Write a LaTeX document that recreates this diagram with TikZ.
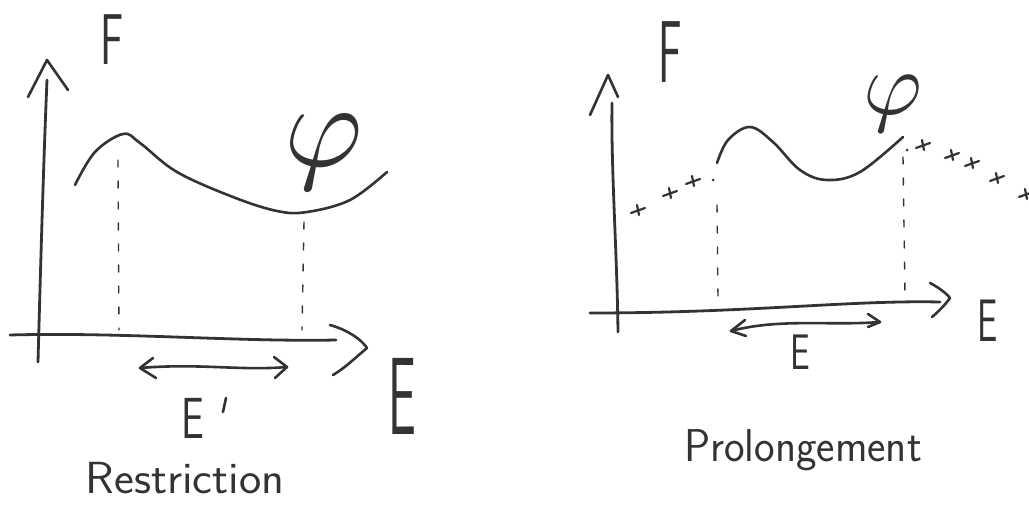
\documentclass[tikz,border=0pt]{standalone}
\usepackage{fontspec}
\definecolor{ink}{gray}{0.2}
\begin{document}
\begin{tikzpicture}[x=1pt,y=-1pt,
  pen/.style={line width=2.6pt, draw=ink, line cap=round, line join=round},
  axispen/.style={line width=2.8pt, draw=ink, line cap=round, line join=round},
  dashline/.style={line width=1.4pt, draw=ink, dash pattern=on 7pt off 14pt, line cap=round},
  crossmk/.style={line width=2.2pt, draw=ink, line cap=round},
  lab/.style={text=ink, inner sep=0pt, font=\sffamily}]
\useasboundingbox (0,0) rectangle (1029,506);

% ---------------- left: Restriction ----------------
\coordinate (LYb) at (38,362);
\coordinate (LYt) at (47,80);
\coordinate (LXl) at (10,335);
\coordinate (LXr) at (336,340);
\draw[axispen] (LYb) .. controls (41,250) and (44,150) .. (LYt);
\draw[pen] (28,97) -- (47,60) -- (68,90);
\draw[axispen] (LXl) .. controls (120,332) and (240,342) .. (LXr);
\draw[pen] (330,325) .. controls (348,330) and (362,340) .. (367,348) .. controls (355,358) and (345,368) .. (333,375);
\draw[pen] plot[smooth, tension=0.6] coordinates {(75,185) (95,152) (123,134) (140,143) (177,172) (233,197) (277,211) (307,212) (350,200) (387,172)};
\draw[dashline] (118,160) -- (119,330);
\draw[dashline] (304,222) -- (302,330);
\coordinate (LAl) at (140,368);
\coordinate (LAr) at (287,367);
\draw[pen] (LAl) .. controls (200,363) and (240,371) .. (LAr);
\draw[pen] (153,358) -- (LAl) -- (156,378);
\draw[pen] (274,357) -- (LAr) -- (275,378);

\node[lab, font=\sffamily\fontsize{72}{72}\selectfont, xscale=0.6] (LF) at (112,40) {F};
\node[lab, scale=12] (Lphi) at (324,152) {$\varphi$};
\node[lab, font=\sffamily\fontsize{58}{58}\selectfont, xscale=0.7] (LE1) at (193,418) {E};
\draw[pen] (226,398) -- (223,412);
\node[lab, font=\sffamily\fontsize{110}{110}\selectfont, xscale=0.45] (LE) at (402,396) {E};
\node[lab, font=\sffamily\fontsize{45}{45}\selectfont, xscale=1.05] (LT) at (185,478) {Restriction};

% ---------------- right: Prolongement ----------------
\coordinate (RYb) at (618,332);
\coordinate (RYt) at (612,103);
\coordinate (RXl) at (590,313);
\coordinate (RXr) at (940,302);
\draw[axispen] (RYb) .. controls (617,250) and (611,170) .. (RYt);
\draw[pen] (590,115) -- (608,75) -- (618,97);
\draw[axispen] (RXl) .. controls (750,313) and (850,300) .. (RXr);
\draw[pen] (930,283) .. controls (938,287) and (946,293) .. (950,298) .. controls (945,305) and (938,312) .. (932,317);
\draw[pen] plot[smooth, tension=0.6] coordinates {(717,163) (728,140) (750,127) (773,142) (800,170) (827,180) (860,172) (903,137)};
\draw[dashline] (717,205) -- (718,297);
\draw[dashline] (903,157) -- (905,295);
\coordinate (RAl) at (731,331);
\coordinate (RAr) at (880,322);
\draw[pen] (RAl) .. controls (780,318) and (830,326) .. (RAr);
\draw[pen] (745,320) -- (RAl) -- (746,336);
\draw[pen] (868,314) -- (RAr) -- (868,327);
% crosses
\foreach \p in {(638,210),(670,193),(693,181),(923,145),(952,155),(972,163),(997,178),(1026,194)}
  \draw[crossmk, shift={\p}] (-7,3) -- (7,-2) (-1,-5) -- (1,5);
\fill[ink] (713,180) circle (1.5pt);
\fill[ink] (907,150) circle (1.5pt);

\node[lab, font=\sffamily\fontsize{88}{88}\selectfont, xscale=0.5] (RF) at (670,52) {F};
\node[lab, scale=9] (Rphi) at (893,104) {$\varphi$};
\node[lab, font=\sffamily\fontsize{50}{50}\selectfont, xscale=0.7] (RE1) at (800,352) {E};
\node[lab, font=\sffamily\fontsize{60}{60}\selectfont, xscale=0.6] (RE2) at (988,321) {E};
\node[lab, font=\sffamily\fontsize{46}{46}\selectfont, xscale=0.95] (RT) at (803,450) {Prolongement};
\end{tikzpicture}
\end{document}
